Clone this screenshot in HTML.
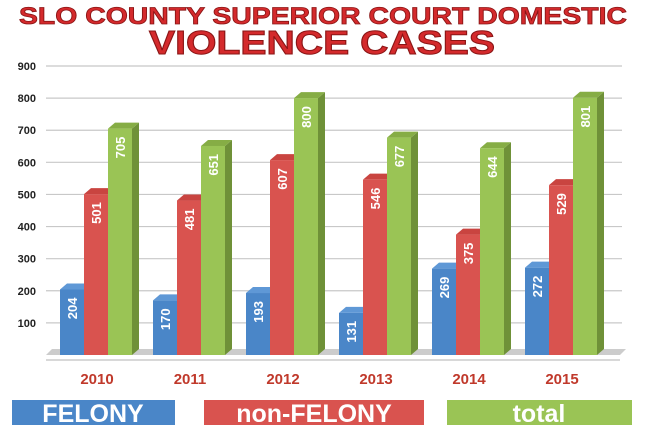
<!DOCTYPE html>
<html><head><meta charset="utf-8"><style>
body{margin:0;background:#fff;width:648px;height:432px;overflow:hidden;font-family:"Liberation Sans",sans-serif}
</style></head><body>
<svg id="chart" width="648" height="432" xmlns="http://www.w3.org/2000/svg">
<text x="323" y="24" text-anchor="middle" textLength="608" lengthAdjust="spacingAndGlyphs" font-family="Liberation Sans" font-weight="bold" font-size="24" fill="#d42a2c" stroke="#8a1515" stroke-width="0.8">SLO COUNTY SUPERIOR COURT DOMESTIC</text>
<text x="322" y="54" text-anchor="middle" textLength="346" lengthAdjust="spacingAndGlyphs" font-family="Liberation Sans" font-weight="bold" font-size="33" fill="#d42a2c" stroke="#8a1515" stroke-width="1">VIOLENCE CASES</text>
<g id="grid"></g><g id="bars"></g><g id="labels"></g>
<g>
<rect x="12" y="400" width="163" height="25" fill="#4a86c8"/>
<text x="93" y="422" text-anchor="middle" font-weight="bold" font-size="25" fill="#fff">FELONY</text>
<rect x="204" y="400" width="220" height="25" fill="#d9534f"/>
<text x="314" y="422" text-anchor="middle" font-weight="bold" font-size="25" fill="#fff">non-FELONY</text>
<rect x="447" y="400" width="185" height="25" fill="#9ac455"/>
<text x="539" y="422" text-anchor="middle" font-weight="bold" font-size="25" fill="#fff">total</text>
</g>
</svg>
<script>
const years=["2010","2011","2012","2013","2014","2015"];
const felony=[204,170,193,131,269,272];
const nonFelony=[501,481,607,546,375,529];
const total=[705,651,800,677,644,801];
const ticks=[100,200,300,400,500,600,700,800,900];
const NS="http://www.w3.org/2000/svg";
const y0=355,y9=66;
function y(v){return y0-(y0-y9)*v/900;}
function groupX(i){return 60+i*93;}
function el(tag,attrs,parent){const e=document.createElementNS(NS,tag);for(const k in attrs)e.setAttribute(k,attrs[k]);parent.appendChild(e);return e;}
const grid=document.getElementById('grid'),bars=document.getElementById('bars'),labels=document.getElementById('labels');
el('polygon',{points:"46,355 620,355 626,349 52,349",fill:"#ccc"},grid);
el('line',{x1:46,x2:620,y1:360,y2:360,stroke:"#ccc","stroke-width":1.5},grid);
ticks.forEach(t=>{
  const l=el('line',{x1:46,x2:622,y1:y(t),y2:y(t),stroke:"#c8c8c8","stroke-width":1.2},grid);
  
  
  const tx=el('text',{x:36,y:y(t)+4,"text-anchor":"end","font-size":11,"font-weight":"bold",fill:"#222"},grid);
  tx.textContent=t;
  
  
});
const series=[[felony,"#4a86c8","#3567a3","#5f98d6"],[nonFelony,"#d9534f","#a83a37","#c94440"],[total,"#9ac455","#6f9138","#86ad45"]];
years.forEach((yr,i)=>{
  series.forEach((s,j)=>{
    const v=s[0][i],x=groupX(i)+j*24,w=24,top=y(v);
    const g=el('g',{},bars);
    
    
    el('polygon',{points:`${x+w},${top} ${x+w+7},${top-6} ${x+w+7},${y0-6} ${x+w},${y0}`,fill:s[2]},g);
    el('polygon',{points:`${x},${top} ${x+7},${top-6} ${x+w+7},${top-6} ${x+w},${top}`,fill:s[3]},g);
    el('rect',{x:x,y:top,width:w,height:y0-top,fill:s[1]},g);
    const t=el('text',{x:0,y:0,transform:`translate(${x+w/2+5},${top+8}) rotate(-90)`,"text-anchor":"end","font-size":13,"font-weight":"bold",fill:"#fff"},g);
    t.textContent=v;
  });
  const yl=el('text',{x:groupX(i)+37,y:384,"text-anchor":"middle","font-size":15,"font-weight":"bold",fill:"#c0392b"},labels);
  yl.textContent=yr;
  
  
});
</script>
</body></html>
